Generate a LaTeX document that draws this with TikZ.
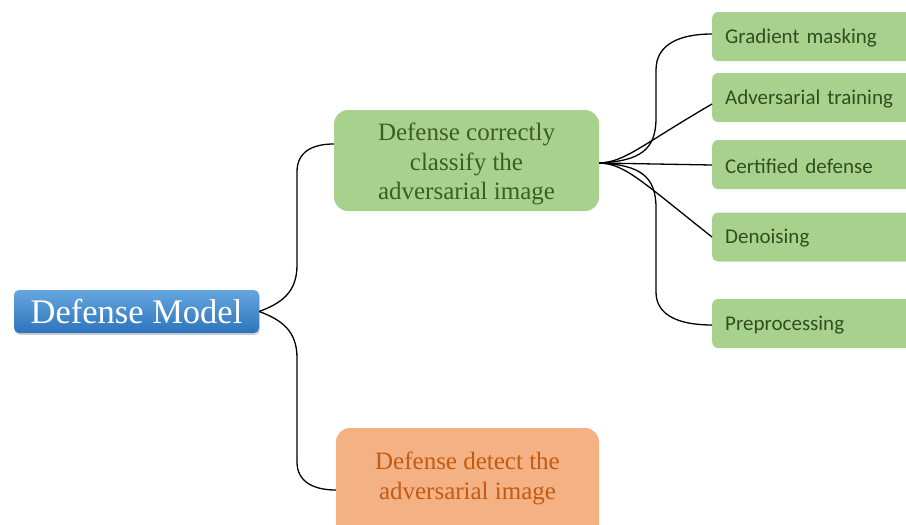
\documentclass[tikz,border=0pt]{standalone}
\usepackage{fontspec}
\setmainfont{Liberation Serif}
\newfontfamily\calib{Carlito}
\usetikzlibrary{shadows,calc}
\definecolor{gfill}{HTML}{A9D18E}
\definecolor{gtext}{HTML}{3B5E25}
\definecolor{gtextb}{HTML}{2F4F1E}
\definecolor{ofill}{HTML}{F4B183}
\definecolor{otext}{HTML}{C55A11}
\definecolor{btop}{HTML}{65A6DE}
\definecolor{bbot}{HTML}{2C74BC}
\tikzset{
  rootbox/.style={rounded corners=5pt, top color=btop, bottom color=bbot, text=white,
    minimum width=245pt, minimum height=43pt, inner sep=0pt,
    drop shadow={shadow xshift=1pt, shadow yshift=-2pt, opacity=0.35},
    font=\fontsize{34.5}{38}\selectfont},
  midbox/.style={rounded corners=14pt, fill=gfill, text=gtext, align=center,
    inner sep=0pt, font=\fontsize{25}{29.5}\selectfont},
  obox/.style={rounded corners=14pt, fill=ofill, text=otext, align=center,
    inner sep=0pt, font=\fontsize{25}{30}\selectfont},
  leafbox/.style={rounded corners=6pt, fill=gfill, text=gtextb, anchor=west,
    minimum height=49pt, text width=185pt, align=left, inner xsep=13pt, inner ysep=0pt,
    font=\calib\fontsize{21}{24}\selectfont},
  conn/.style={draw=black, line width=1.3pt}
}
\newcommand{\shiftdown}[2]{\raisebox{#1}[\height][\depth]{#2}}
\begin{document}
\begin{tikzpicture}[x=1pt,y=-1pt]
\useasboundingbox (0,0) rectangle (906,525);
\clip (0,0) rectangle (906,525);
\node[rootbox] (dm) at (136.5,311.5) {Defense Model};
\node[midbox, minimum width=265pt, minimum height=101pt] (gb) at (466.5,160.5)
  {\shiftdown{-4pt}{\begin{tabular}{@{}c@{}}Defense correctly\\classify the\\adversarial image\end{tabular}}};
\node[obox, minimum width=263pt, minimum height=124pt] (ob) at (467.5,490)
  {\shiftdown{12pt}{\begin{tabular}{@{}c@{}}Defense detect the\\adversarial image\end{tabular}}};
\node[leafbox] (gm) at (712,36.5) {\shiftdown{-1.5pt}{Gradient masking}};
\node[leafbox] (at) at (712,97.5) {\shiftdown{-1.5pt}{Adversarial training}};
\node[leafbox] (cd) at (712,164.5) {\shiftdown{-1.5pt}{Certified defense}};
\node[leafbox] (dn) at (712,237) {\shiftdown{-1.5pt}{Denoising}};
\node[leafbox] (pp) at (712,323.5) {\shiftdown{-1.5pt}{Preprocessing}};
% root connectors
\draw[conn] (dm.east) .. controls (282,303) and (297,292) .. (297,265) -- (297,172)
  .. controls (297,152) and (312,144) .. (gb.west |- 0,144);
\draw[conn] (dm.east) .. controls (282,320) and (297,331) .. (297,358) -- (297,462)
  .. controls (297,482) and (314,490) .. (ob.west);
% leaf connectors
\draw[conn] (gb.east |- 0,163) .. controls (640,161) and (656,150) .. (656,118) -- (656,70)
  .. controls (656,44) and (680,34) .. (gm.west |- 0,34);
\draw[conn] (gb.east |- 0,163) .. controls (625,162) and (640,146) .. (at.west |- 0,104);
\draw[conn] (gb.east |- 0,163) -- (cd.west |- 0,165);
\draw[conn] (gb.east |- 0,163) .. controls (625,164) and (640,180) .. (dn.west |- 0,237);
\draw[conn] (gb.east |- 0,163) .. controls (640,165) and (656,176) .. (656,208) -- (656,292)
  .. controls (656,316) and (680,325) .. (pp.west |- 0,325);
\end{tikzpicture}
\end{document}
